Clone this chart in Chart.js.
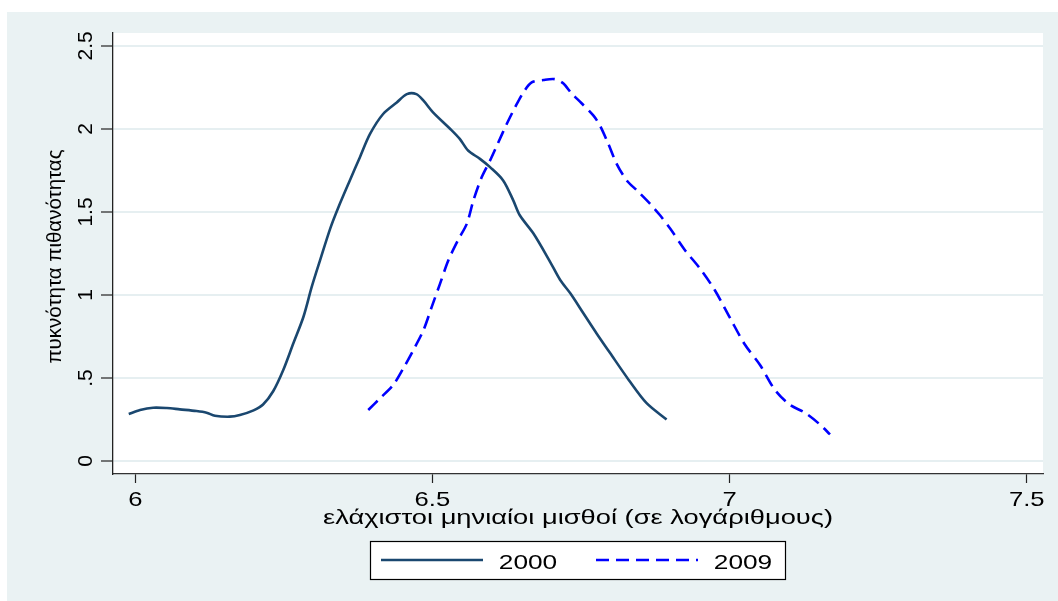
<!DOCTYPE html>
<html>
<head>
<meta charset="utf-8">
<script src="https://cdn.jsdelivr.net/npm/chart.js@4/dist/chart.umd.min.js"></script>
<style>
  html, body { margin: 0; padding: 0; background: #ffffff; }
  #wrap { width: 1058px; height: 601px; }
</style>
</head>
<body>
<div id="wrap"><canvas id="c" width="1058" height="601"></canvas></div>
<script>
// Kernel density estimates of log minimum monthly wages
const wage2000 = [5.989, 6.008, 6.030, 6.053, 6.075, 6.103, 6.120, 6.134, 6.159, 6.176, 6.199, 6.215,
  6.232, 6.249, 6.266, 6.283, 6.297, 6.311, 6.328, 6.342, 6.361, 6.378, 6.395, 6.417, 6.440, 6.457,
  6.473, 6.485, 6.501, 6.530, 6.546, 6.560, 6.580, 6.597, 6.619, 6.636, 6.647, 6.670, 6.698, 6.715,
  6.732, 6.754, 6.776, 6.799, 6.830, 6.860, 6.894];
const density2000 = [0.283, 0.307, 0.321, 0.319, 0.311, 0.301, 0.291, 0.273, 0.267, 0.277, 0.305, 0.340,
  0.420, 0.548, 0.709, 0.869, 1.05, 1.21, 1.40, 1.53, 1.69, 1.83, 1.97, 2.09, 2.16, 2.21,
  2.21, 2.17, 2.10, 2.00, 1.94, 1.87, 1.82, 1.77, 1.69, 1.57, 1.48, 1.37, 1.20, 1.09,
  1.01, 0.89, 0.77, 0.65, 0.49, 0.35, 0.25];

const wage2009 = [6.392, 6.412, 6.434, 6.451, 6.468, 6.485, 6.499, 6.513, 6.527, 6.543, 6.558, 6.569,
  6.583, 6.597, 6.611, 6.625, 6.639, 6.653, 6.667, 6.687, 6.706, 6.720, 6.734, 6.751, 6.771, 6.782,
  6.796, 6.810, 6.827, 6.844, 6.866, 6.883, 6.900, 6.925, 6.950, 6.975, 7.001, 7.026, 7.051, 7.076,
  7.101, 7.127, 7.152, 7.169];
const density2009 = [0.307, 0.378, 0.458, 0.558, 0.669, 0.789, 0.930, 1.07, 1.21, 1.33, 1.43, 1.57,
  1.71, 1.81, 1.92, 2.03, 2.13, 2.22, 2.28, 2.295, 2.30, 2.275, 2.215, 2.155, 2.08, 2.02,
  1.91, 1.79, 1.69, 1.63, 1.55, 1.48, 1.40, 1.27, 1.16, 1.03, 0.86, 0.70, 0.58, 0.43,
  0.34, 0.29, 0.22, 0.16];

const seriesLabels = ['2000', '2009'];
const xTickValues = [6, 6.5, 7, 7.5];
const xTickLabels = ['6', '6.5', '7', '7.5'];
const yTickValues = [0, 0.5, 1, 1.5, 2, 2.5];
const yTickLabels = ['0', '.5', '1', '1.5', '2', '2.5'];
const xTitle = 'ελάχιστοι μηνιαίοι μισθοί (σε λογάριθμους)';
const yTitle = 'πυκνότητα πιθανότητας';

const FONT = '"Liberation Sans", Arial, Helvetica, sans-serif';
const BG = '#eaf2f3';

function toPoints(xs, ys) { return xs.map((x, i) => ({ x: x, y: ys[i] })); }

function drawText(ctx, s, x, y, size, opts) {
  const o = Object.assign({ sx: 1, rot: 0, align: 'center', base: 'alphabetic' }, opts || {});
  ctx.save();
  ctx.translate(x, y);
  ctx.rotate(o.rot);
  ctx.scale(o.sx, 1);
  ctx.font = size + 'px ' + FONT;
  ctx.textAlign = o.align;
  ctx.textBaseline = o.base;
  ctx.fillStyle = '#000000';
  ctx.fillText(s, 0, 0);
  ctx.restore();
}

// Panel background, white plot region
const backdrop = {
  id: 'backdrop',
  beforeDraw(chart) {
    const ctx = chart.ctx, a = chart.chartArea;
    ctx.save();
    ctx.fillStyle = '#ffffff';
    ctx.fillRect(0, 0, chart.width, chart.height);
    ctx.fillStyle = BG;
    ctx.fillRect(7, 12, chart.width - 7, chart.height - 12);
    ctx.fillStyle = '#ffffff';
    ctx.fillRect(a.left, a.top, a.right - a.left, a.bottom - a.top);
    ctx.restore();
  }
};

// Tick labels, axis titles and boxed legend
const annotations = {
  id: 'annotations',
  afterDraw(chart) {
    const ctx = chart.ctx, a = chart.chartArea;
    const xs = chart.scales.x, ys = chart.scales.y;
    xTickValues.forEach((v, i) => {
      drawText(ctx, xTickLabels[i], xs.getPixelForValue(v), 506, 21, { sx: 1.22 });
    });
    yTickValues.forEach((v, i) => {
      drawText(ctx, yTickLabels[i], 92, ys.getPixelForValue(v), 21, { rot: -Math.PI / 2 });
    });
    drawText(ctx, xTitle, (a.left + a.right) / 2, 524, 21, { sx: 1.3 });
    drawText(ctx, yTitle, 61, (a.top + a.bottom) / 2 + 3, 20.5, { rot: -Math.PI / 2 });

    // legend
    const bx = 370, by = 541, bw = 415, bh = 38;
    ctx.save();
    ctx.fillStyle = '#ffffff';
    ctx.fillRect(bx, by, bw, bh);
    ctx.strokeStyle = '#000000';
    ctx.lineWidth = 1.2;
    ctx.strokeRect(bx + 0.5, by + 0.5, bw, bh);
    const items = [{ x0: 381, x1: 483, tx: 528 }, { x0: 596, x1: 698, tx: 743 }];
    chart.data.datasets.forEach((ds, i) => {
      const it = items[i];
      ctx.save();
      ctx.strokeStyle = ds.borderColor;
      ctx.lineWidth = ds.borderWidth;
      ctx.setLineDash(ds.borderDash || []);
      ctx.beginPath();
      ctx.moveTo(it.x0, 560);
      ctx.lineTo(it.x1, 560);
      ctx.stroke();
      ctx.restore();
      drawText(ctx, ds.label, it.tx, 569, 21, { sx: 1.25 });
    });
    ctx.restore();
  }
};

new Chart(document.getElementById('c'), {
  type: 'line',
  data: {
    datasets: [
      {
        label: seriesLabels[0],
        data: toPoints(wage2000, density2000),
        borderColor: '#1a476f',
        borderWidth: 2.6,
        pointRadius: 0,
        tension: 0.3,
        fill: false
      },
      {
        label: seriesLabels[1],
        data: toPoints(wage2009, density2009),
        borderColor: '#0000ff',
        borderWidth: 2.6,
        borderDash: [13, 7],
        pointRadius: 0,
        tension: 0.3,
        fill: false
      }
    ]
  },
  options: {
    responsive: false,
    animation: false,
    events: [],
    layout: { padding: { top: 33, right: 15, left: 0, bottom: 0 } },
    plugins: { legend: { display: false }, tooltip: { enabled: false } },
    scales: {
      x: {
        type: 'linear',
        min: 5.9625,
        max: 7.5274,
        afterBuildTicks(s) { s.ticks = xTickValues.map(v => ({ value: v })); },
        afterFit(s) { s.height = 127; },
        ticks: { display: false },
        grid: { drawOnChartArea: false, drawTicks: true, tickLength: 9, tickColor: '#222222', tickWidth: 1.2 },
        border: { display: true, color: '#333333', width: 1.3 }
      },
      y: {
        type: 'linear',
        min: -0.0783,
        max: 2.578,
        afterBuildTicks(s) { s.ticks = yTickValues.map(v => ({ value: v })); },
        afterFit(s) { s.width = 113; },
        ticks: { display: false },
        grid: { color: '#e6eff1', lineWidth: 2, drawTicks: true, tickLength: 12, tickColor: '#222222', tickWidth: 1.2 },
        border: { display: true, color: '#222222', width: 1.3 }
      }
    }
  },
  plugins: [backdrop, annotations]
});
</script>
</body>
</html>
